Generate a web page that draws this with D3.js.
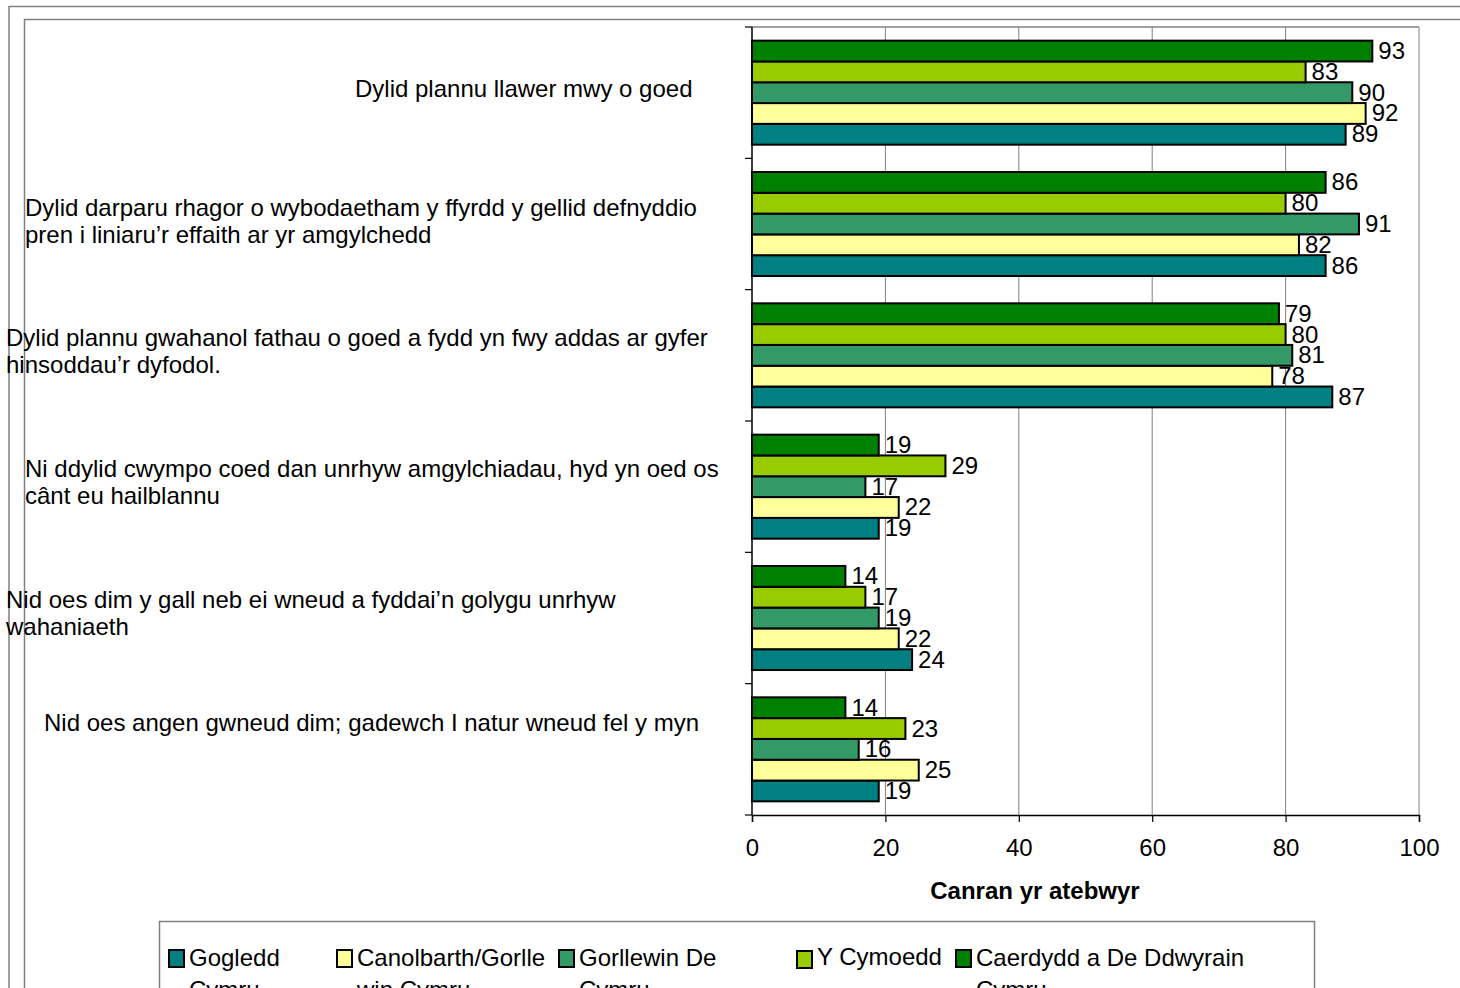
<!DOCTYPE html>
<html><head><meta charset="utf-8">
<script src="https://cdn.jsdelivr.net/npm/d3@7"></script>
<style>body{margin:0;background:#fff;overflow:hidden}svg{display:block;font-family:"Liberation Sans",Arial,sans-serif}</style>
</head><body>
<script>
// ---- data ----
const categories = [
  ["Dylid plannu llawer mwy o goed"],
  ["Dylid darparu rhagor o wybodaetham y ffyrdd y gellid defnyddio","pren i liniaru\u2019r effaith ar yr amgylchedd"],
  ["Dylid plannu gwahanol fathau o goed a fydd yn fwy addas ar gyfer","hinsoddau\u2019r dyfodol."],
  ["Ni ddylid cwympo coed dan unrhyw amgylchiadau, hyd yn oed os","c\u00e2nt eu hailblannu"],
  ["Nid oes dim y gall neb ei wneud a fyddai\u2019n golygu unrhyw","wahaniaeth"],
  ["Nid oes angen gwneud dim; gadewch I natur wneud fel y myn"]
];
const seriesNames = ["Gogledd Cymru","Canolbarth/Gorllewin Cymru","Gorllewin De Cymru","Y Cymoedd","Caerdydd a De Ddwyrain Cymru"];
const legendLines = [["Gogledd","Cymru"],["Canolbarth/Gorlle","win Cymru"],["Gorllewin De","Cymru"],["Y Cymoedd"],["Caerdydd a De Ddwyrain","Cymru"]];
const gogledd    = [89, 86, 87, 19, 24, 19];
const canolbarth = [92, 82, 78, 22, 22, 25];
const gorllewin  = [90, 91, 81, 17, 19, 16];
const cymoedd    = [83, 80, 80, 29, 17, 23];
const caerdydd   = [93, 86, 79, 19, 14, 14];
const seriesValues = [gogledd, canolbarth, gorllewin, cymoedd, caerdydd];
const xTicks = [0, 20, 40, 60, 80, 100];
const axisTitle = "Canran yr atebwyr";

// ---- styles / layout ----
const colors = ["#008080","#FFFF99","#339966","#99CC00","#008000"];
const labelLayout = [[355,70],[25,57.5],[6,56.5],[25,56],[6,55.7],[44,47.5]];
const legendX = [168, 336, 558, 796, 955];
const W = 1460, H = 988;
const plot = {x0: 752, x1: 1419, y0: 27, y1: 815};
const fs = 24;

const svg = d3.select("body").append("svg").attr("width", W).attr("height", H);

// borders
svg.append("path").attr("d", `M9,${H}V6.5H${W}`).attr("fill","none").attr("stroke","#808080").attr("stroke-width",1.5);
svg.append("path").attr("d", `M24.5,${H}V19.5H${W}`).attr("fill","none").attr("stroke","#808080").attr("stroke-width",1.5);

const x = d3.scaleLinear().domain([0,100]).range([plot.x0, plot.x1]);
const y = d3.scaleBand().domain(d3.range(categories.length)).range([plot.y0, plot.y1]).paddingInner(0.208).paddingOuter(0.104);
// series order top->bottom: last series at top
const ys = d3.scaleBand().domain([4,3,2,1,0]).range([0, y.bandwidth()]);

// gridlines
svg.append("g").selectAll("line").data(xTicks.slice(1)).join("line")
  .attr("x1", d=>x(d)).attr("x2", d=>x(d)).attr("y1", plot.y0).attr("y2", plot.y1)
  .attr("stroke","#808080").attr("stroke-width",1);
svg.append("line").attr("x1",plot.x0).attr("x2",plot.x1).attr("y1",plot.y0).attr("y2",plot.y0).attr("stroke","#808080").attr("stroke-width",1.5);

// bars
const step = (plot.y1 - plot.y0) / categories.length;
const g = svg.append("g");
categories.forEach((c, ci) => {
  seriesValues.forEach((vals, si) => {
    const v = vals[ci];
    const by = y(ci) + ys(si);
    g.append("rect").attr("x", x(0)).attr("y", by).attr("width", x(v)-x(0)).attr("height", ys.bandwidth())
      .attr("fill", colors[si]).attr("stroke","#000").attr("stroke-width",2);
  });
});
categories.forEach((c, ci) => {
  seriesValues.forEach((vals, si) => {
    const v = vals[ci];
    const by = y(ci) + ys(si);
    g.append("text").attr("x", x(v)+6).attr("y", by + ys.bandwidth()/2 + 8)
      .attr("font-size", fs).attr("fill","#000").text(v);
  });
});

// axes
const xAxis = svg.append("g").attr("transform", `translate(0,${plot.y1})`)
  .call(d3.axisBottom(x).tickValues(xTicks).tickSize(7).tickPadding(17));
xAxis.select(".domain").attr("stroke","#000").attr("stroke-width",1.5);
xAxis.selectAll(".tick line").attr("stroke","#000").attr("stroke-width",1.2);
xAxis.selectAll(".tick text").attr("font-size", fs).attr("font-family","Liberation Sans, Arial, sans-serif").attr("fill","#000");

const yTicks = d3.range(categories.length + 1).map(i => plot.y0 + i*step);
svg.append("g").selectAll("line").data(yTicks).join("line")
  .attr("x1", plot.x0-7).attr("x2", plot.x0).attr("y1", d=>d).attr("y2", d=>d).attr("stroke","#000").attr("stroke-width",1.2);
svg.append("line").attr("x1",plot.x0).attr("x2",plot.x0).attr("y1",plot.y0).attr("y2",plot.y1).attr("stroke","#000").attr("stroke-width",1.5);

// category labels
categories.forEach((lines, ci) => {
  const [lx, dy] = labelLayout[ci];
  const t = svg.append("text").attr("font-size", fs).attr("fill","#000");
  lines.forEach((ln, li) => {
    t.append("tspan").attr("x", lx).attr("y", plot.y0 + ci*step + dy + li*27).text(ln);
  });
});

// axis title
svg.append("text").attr("x", 1035).attr("y", 899).attr("text-anchor","middle")
  .attr("font-size", fs).attr("font-weight","bold").text(axisTitle);

// legend
svg.append("rect").attr("x",159.5).attr("y",921.5).attr("width",1155).attr("height",120)
  .attr("fill","none").attr("stroke","#808080").attr("stroke-width",1.5);
seriesNames.forEach((name, si) => {
  const lx = legendX[si];
  const off = si === 3 ? 1 : 0;
  svg.append("rect").attr("x", lx+1).attr("y", 950 + off).attr("width", 15).attr("height", 17)
    .attr("fill", colors[si]).attr("stroke","#000").attr("stroke-width",2);
  const t = svg.append("text").attr("font-size", fs).attr("fill","#000");
  legendLines[si].forEach((ln, li) => {
    t.append("tspan").attr("x", lx + 21).attr("y", 966 - off + li*32).text(ln);
  });
});
</script>
</body></html>
